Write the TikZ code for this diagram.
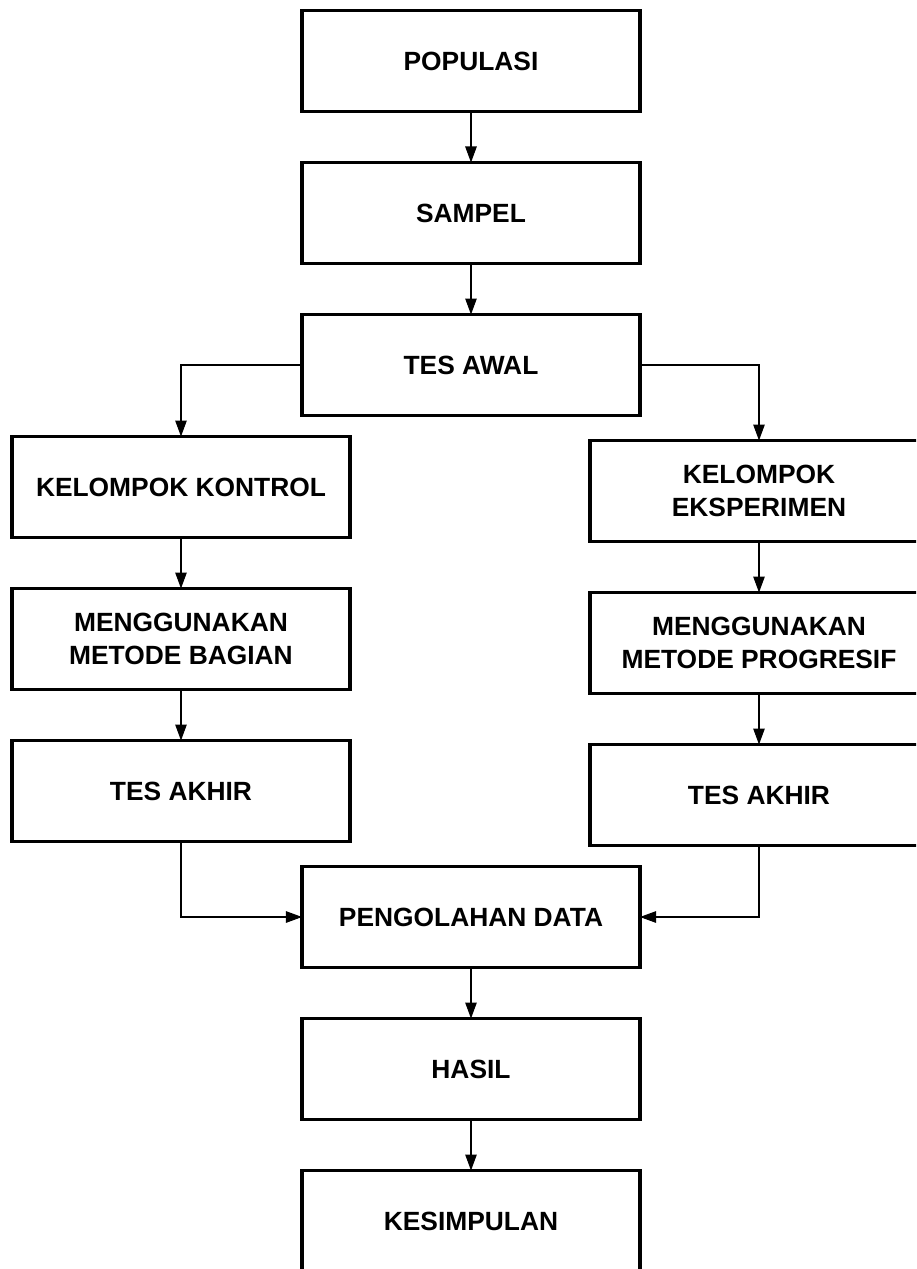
\documentclass[tikz,border=0pt]{standalone}
\usepackage{fontspec}
\setmainfont{Liberation Sans}
\usepackage{tikz}
\usetikzlibrary{arrows.meta,positioning}
\tikzstyle{block}=[rectangle,draw=black,line width=2pt,outer sep=0pt,minimum width=6.76cm,minimum height=2.02cm,inner sep=3pt,align=center,font=\bfseries\fontsize{15}{18.5}\selectfont]

\begin{document}
\begin{tikzpicture}[>={Triangle[length=3.2mm,width=2.3mm]},node distance=1.02cm,line width=0.6pt]
    \useasboundingbox (-9.42,1.22) rectangle (8.9,-24.16);
    \clip (-9.42,1.22) rectangle (8.9,-24.16);

    \node[block](populasi){POPULASI};
    \node[block](sampel)[below=of populasi]{SAMPEL};
    \node[block](tesawal)[below=of sampel]{TES AWAL};

    \node[block](kontrol)[below=0.42cm of tesawal, xshift=-5.8cm]{KELOMPOK KONTROL};
    \node[block](bagian)[below=of kontrol]{MENGGUNAKAN\\METODE BAGIAN};
    \node[block](akhirkontrol)[below=of bagian]{TES AKHIR};

    \node[block](eksperimen)[below=0.5cm of tesawal, xshift=5.76cm]{KELOMPOK\\EKSPERIMEN};
    \node[block](progresif)[below=of eksperimen]{MENGGUNAKAN\\METODE PROGRESIF};
    \node[block](akhireksperimen)[below=of progresif]{TES AKHIR};

    \node[block](pengolahan)[below=0.5cm of akhirkontrol, xshift=5.8cm]{PENGOLAHAN DATA};
    \node[block](hasil)[below=of pengolahan]{HASIL};
    \node[block](kesimpulan)[below=of hasil]{KESIMPULAN};

    \draw[->](populasi) -- (sampel);
    \draw[->](sampel) -- (tesawal);
    \draw[->](tesawal.west) -| (kontrol.north);
    \draw[->](tesawal.east) -| (eksperimen.north);
    \draw[->](kontrol) -- (bagian);
    \draw[->](bagian) -- (akhirkontrol);
    \draw[->](eksperimen) -- (progresif);
    \draw[->](progresif) -- (akhireksperimen);
    \draw[->](akhirkontrol.south) |- (pengolahan.west);
    \draw[->](akhireksperimen.south) |- (pengolahan.east);
    \draw[->](pengolahan) -- (hasil);
    \draw[->](hasil) -- (kesimpulan);
\end{tikzpicture}
\end{document}
